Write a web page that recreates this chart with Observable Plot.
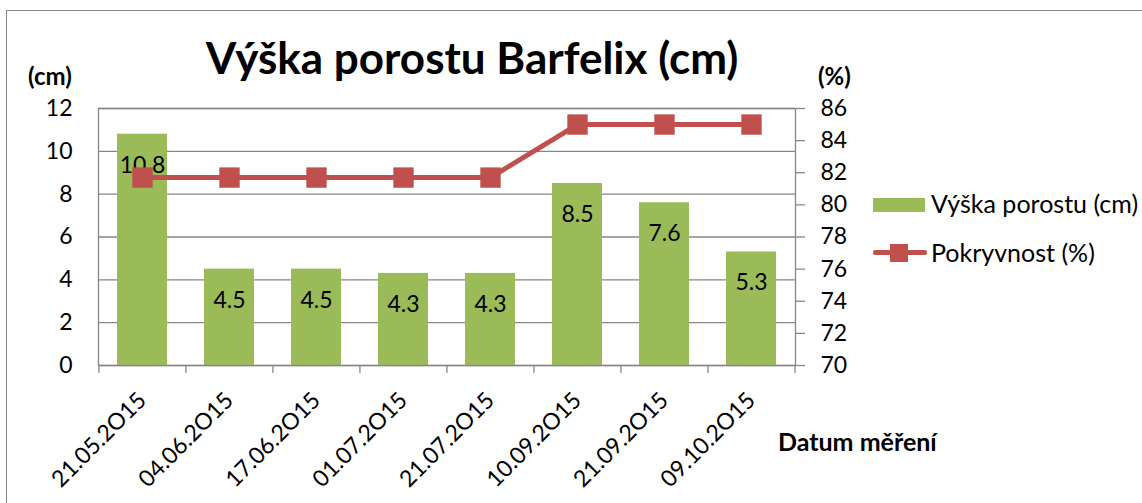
<!DOCTYPE html>
<html>
<head>
<meta charset="utf-8">
<script src="https://cdn.jsdelivr.net/npm/d3@7"></script>
<script src="https://cdn.jsdelivr.net/npm/@observablehq/plot@0.6"></script>
<style>
  html, body { margin: 0; padding: 0; background: #fff; }
  #wrap { position: relative; width: 1142px; height: 503px; overflow: hidden; font-family: Lato, "Open Sans", sans-serif; }
  #border { position: absolute; left: 6px; top: 10px; width: 1200px; height: 600px; border: 1px solid #898989; box-sizing: border-box; }
  .lbl { position: absolute; white-space: nowrap; color: #000; line-height: 1; }
  .b { font-weight: bold; }
  #chart { position: absolute; left: 0; top: 0; }
  .leg { position: absolute; font-size: 25px; line-height: 1; white-space: nowrap; }
</style>
</head>
<body>
<div id="wrap">
  <div id="border"></div>
  <div id="chart"></div>
  <div class="lbl b" id="title" style="font-size:44px; left:0; width:944px; text-align:center; top:35px;">Výška porostu Barfelix (cm)</div>
  <div class="lbl b" style="font-size:24px; left:28px; top:64px;">(cm)</div>
  <div class="lbl b" style="font-size:24px; left:818px; top:64px;">(%)</div>
  <div class="lbl b" style="font-size:25px; left:778px; top:429px;">Datum měření</div>
  <div id="legend"></div>
</div>
<script>
const dates = ["21.05.2O15","04.06.2O15","17.06.2O15","01.07.2O15","21.07.2O15","10.09.2O15","21.09.2O15","09.10.2O15"];
const vyska = [10.8, 4.5, 4.5, 4.3, 4.3, 8.5, 7.6, 5.3];
const pokryvnost = [81.7, 81.7, 81.7, 81.7, 81.7, 85, 85, 85];
const cmTicks = [0, 2, 4, 6, 8, 10, 12];
const pctTicks = [70, 72, 74, 76, 78, 80, 82, 84, 86];
const seriesNames = ["Výška porostu (cm)", "Pokryvnost (%)"];

const green = "#9BBB59", red = "#C0504D", grid = "#868686";
const pMin = 70, pMax = 86, cMax = 12;
const toCm = p => (p - pMin) / (pMax - pMin) * cMax;

const data = dates.map((d, i) => ({date: d, v: vyska[i], p: pokryvnost[i]}));

const W = 1142, H = 503, ml = 98, mr = 347, mt = 108, mb = 138;
const step = (W - ml - mr) / dates.length;

const chart = Plot.plot({
  width: W, height: H,
  marginLeft: ml, marginRight: mr, marginTop: mt, marginBottom: mb,
  style: {fontFamily: "Lato, 'Open Sans', sans-serif", fontSize: "23px", color: "#000", background: "transparent"},
  x: {type: "band", domain: dates, paddingInner: 0.42, paddingOuter: 0.21, axis: null, label: null},
  y: {domain: [0, cMax], axis: null, label: null},
  marks: [
    Plot.gridY(cmTicks, {stroke: grid, strokeOpacity: 1, strokeWidth: 1.3}),
    Plot.barY(data, {x: "date", y: "v", fill: green}),
    Plot.frame({stroke: grid, strokeWidth: 1.3}),
    Plot.axisY(cmTicks, {anchor: "left", label: null, tickSize: 0, tickPadding: 26, fontSize: 23, tickFormat: d => d}),
    Plot.axisY(pctTicks.map(toCm), {anchor: "right", label: null, tickSize: 9, tickPadding: 16, fontSize: 23, stroke: grid, strokeWidth: 1.3, tickFormat: (d, i) => pctTicks[i]}),
    Plot.axisX(dates, {anchor: "bottom", label: null, tickSize: 8, tickFormat: null, dx: -step / 2, stroke: grid, strokeWidth: 1.3}),
    Plot.axisX([dates[dates.length - 1]], {anchor: "bottom", label: null, tickSize: 8, tickFormat: null, dx: step / 2, stroke: grid, strokeWidth: 1.3}),
    Plot.text(data, {x: "date", y: "v", text: d => d.v.toFixed(1), dy: 31, fontSize: 23, fill: "#000"}),
    Plot.line(data, {x: "date", y: d => toCm(d.p), stroke: red, strokeWidth: 5}),
    Plot.dot(data, {x: "date", y: d => toCm(d.p), symbol: "square", r: 11.5, fill: red, stroke: null}),
    Plot.text(data, {x: "date", text: "date", frameAnchor: "bottom", rotate: -45, textAnchor: "end", lineAnchor: "middle", dy: 31, dx: 0, fontSize: 23, fill: "#000"})
  ]
});
document.getElementById("chart").appendChild(chart);

// legend
const leg = document.getElementById("legend");
leg.innerHTML = `
  <div style="position:absolute; left:873px; top:198px; width:52px; height:14px; background:${green}"></div>
  <div class="leg" style="left:931px; top:191px;">${seriesNames[0]}</div>
  <div style="position:absolute; left:873px; top:250px; width:54px; height:5px; background:${red}; border-radius:2px"></div>
  <div style="position:absolute; left:890px; top:244px; width:18px; height:18px; background:${red}"></div>
  <div class="leg" style="left:931px; top:240px;">${seriesNames[1]}</div>
`;
</script>
</body>
</html>
